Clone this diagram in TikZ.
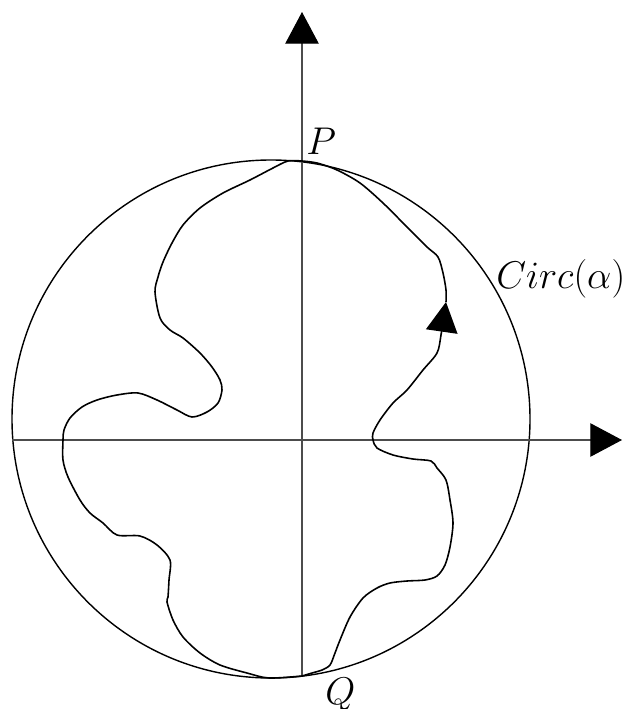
\RequirePackage{fix-cm}
\documentclass[tikz,border=0pt]{standalone}
\usepackage{tikz}
\usetikzlibrary{arrows.meta}

\begin{document}
\begin{tikzpicture}[
  x=0.02cm, y=-0.02cm,
  axis/.style={line width=0.6pt,black!70,-{Triangle[length=18pt,width=19pt,black]}},
  rim/.style={line width=0.8pt},
  loop/.style={line width=0.9pt,smooth,tension=0.5},
  tip/.style={-{Triangle[length=17pt,width=18pt]}},
  lbl/.style={anchor=base west,inner sep=0pt,font=\fontsize{22}{26}\selectfont}
]
\useasboundingbox (0,0) rectangle (627,709);
\coordinate (O) at (271,419);
\coordinate (P) at (302,161);
\coordinate (Q) at (302,676);
\coordinate (xl) at (12,440);
\coordinate (xr) at (622,440);
\coordinate (yt) at (302,12);
\coordinate (mid) at (446,302);

\draw[rim] (O) circle (259);
\draw[axis] (xl) -- (xr);
\draw[axis] (Q) -- (yt);

\draw[loop] plot coordinates {(P) (288,161) (273,168) (250,180) (223,193) (200,208)
  (183,225) (172,243) (163,262) (158,277) (155,292) (160,318) (170,330) (183,338)
  (200,353) (212,367) (220,380) (222,390) (218,403) (207,412) (192,417) (177,410)
  (157,400) (138,393) (117,395) (97,400) (82,407) (70,418) (64,430) (63,440)
  (63,460) (68,477) (80,500) (90,513) (103,523) (117,535) (140,536) (157,545)
  (170,560) (169,580) (168,597) (167,602) (173,620) (183,637) (200,653) (220,665)
  (247,673) (269,678) (Q)};
\draw[loop,tip] plot coordinates {(Q) (312,673) (322,670) (330,665) (335,653)
  (340,640) (350,617) (363,598) (377,588) (390,583) (407,581) (425,580) (437,576)
  (445,565) (450,547) (453,523) (450,500) (446,480) (437,468) (431,461) (413,459)
  (393,455) (377,448) (373,440) (373,433) (380,420) (393,403) (407,390) (423,370)
  (437,353) (441,335) (mid)};
\draw[loop] plot coordinates {(mid) (446,290) (443,273) (438,257) (427,247)
  (407,227) (383,203) (360,183) (337,170) (317,163) (P)};

\node[lbl] (lp) at (306,155) {$P$};
\node[lbl] (lq) at (325,704) {$Q$};
\node[lbl] (lc) at (496,288) {$Circ(\alpha)$};
\end{tikzpicture}
\end{document}
